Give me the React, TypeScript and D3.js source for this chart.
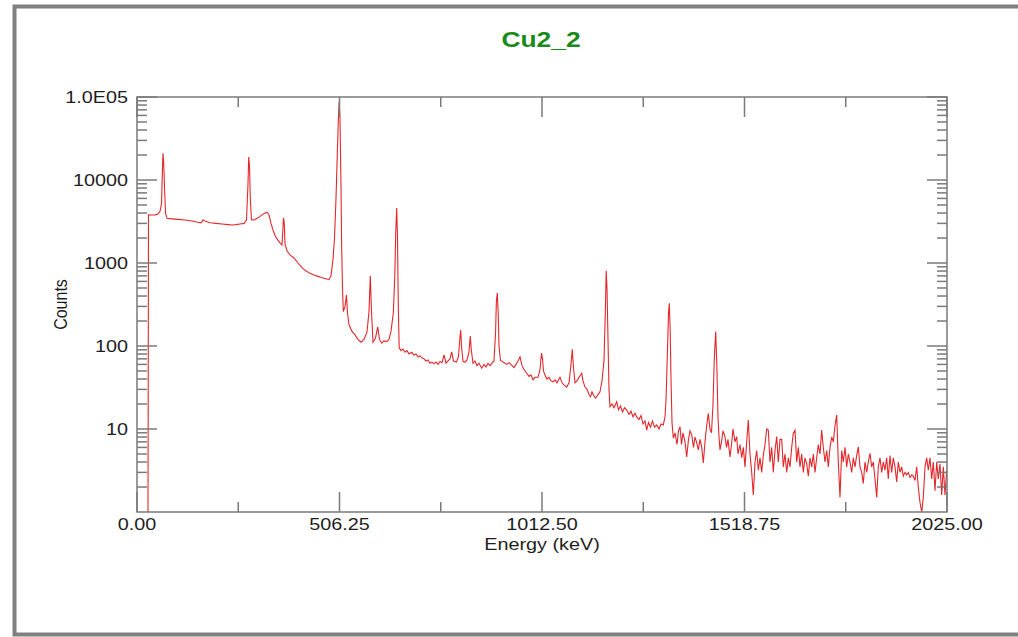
import React from "react";
import * as d3 from "d3";

const title = "Cu2_2";
const xTicks = [0, 506.25, 1012.5, 1518.75, 2025];
const xMinorTicks = [253.125, 759.375, 1265.625, 1771.875];
const yTicks = [1e5, 1e4, 1e3, 100, 10];
const yTickLabels = ["1.0E05", "10000", "1000", "100", "10"];

const energy = [
  27.5, 28.75, 35, 45, 52.5, 57.5, 61.25, 63.75, 65, 66.75, 68.75, 71.25, 75, 87.5, 102.5, 120, 137.5, 152.5, 160, 165, 170,
  182.5, 197.5, 212.5, 227.5, 237.5, 247.5, 257.5, 267.5, 273.75, 277.5, 279.25, 281.25, 283.25, 286.25, 292.5, 302.5, 312.5,
  320, 325, 330, 335, 340, 345, 350, 357.5, 362.5, 366.25, 368.25, 370, 375, 382.5, 392.5, 402.5, 412.5, 422.5, 432.5, 442.5,
  452.5, 462.5, 472.5, 480, 485, 490, 493.75, 497.5, 501.25, 503.75, 505.5, 507.5, 510, 511.75, 513.75, 515.75, 520, 523.75,
  526.25, 530, 537.5, 545, 552.5, 560, 567.5, 575, 580, 583.25, 585.75, 590, 596.25, 601.75, 606.25, 611.75, 617.5, 624.25,
  630, 635, 640.75, 644.5, 647, 649.25, 651.25, 653.25, 655.5, 660, 665, 670, 675, 680, 686.75, 692.5, 697.5, 702.5, 707.5,
  712.5, 717.5, 722.5, 727.5, 732.5, 737.5, 742.5, 747.5, 752.5, 757.5, 762.5, 767.5, 772.5, 777.5, 782.5, 786.75, 791.25,
  798.75, 803.75, 807.5, 809.25, 811.25, 815, 820, 825, 830, 833.25, 835.75, 840, 845, 850, 855, 861.75, 867.5, 872.5, 877.5,
  882.5, 887.5, 892.5, 896.5, 898.5, 900.75, 903, 905, 908.75, 915, 920, 925, 930, 936.75, 942.5, 947.5, 952.5, 957.5, 962.5,
  967.5, 974.25, 980, 985, 990, 995, 1002.5, 1007.5, 1011.25, 1013.75, 1016.25, 1020, 1025, 1030, 1035, 1040, 1045, 1050,
  1055, 1057.5, 1062.5, 1067.5, 1074.25, 1080, 1084.25, 1088.25, 1091.25, 1095, 1100, 1105, 1111.75, 1115, 1120, 1125, 1130,
  1133.75, 1137.5, 1142.5, 1146.25, 1152.5, 1157.5, 1162.5, 1167.5, 1170.75, 1173, 1175, 1177.5, 1180, 1182.5, 1187.5, 1192.5,
  1199.25, 1203.75, 1208.75, 1213.75, 1218.75, 1224.25, 1230, 1235, 1240, 1245, 1249.25, 1255, 1260, 1265, 1270, 1274.25,
  1278.75, 1283.75, 1288.75, 1293.75, 1299.25, 1305, 1310, 1315.75, 1320, 1322.5, 1326.25, 1328.75, 1330.75, 1333, 1335,
  1337.5, 1340.75, 1345, 1350, 1353.75, 1357.5, 1361.25, 1365, 1370, 1374.25, 1378.75, 1382.5, 1386.75, 1391.25, 1395,
  1398.75, 1403.25, 1407.5, 1411.75, 1415.75, 1420, 1424.25, 1428.25, 1432.5, 1436.25, 1440, 1443.25, 1446.75, 1449.5,
  1452.5, 1455, 1457.5, 1461.25, 1465, 1470, 1473.75, 1477.5, 1482.5, 1486.25, 1490, 1495, 1499.25, 1502.5, 1507.5,
  1511.75, 1515.75, 1520, 1524.25, 1528.25, 1532.5, 1536.75, 1540.75, 1545, 1549.25, 1553.25, 1557.5, 1561.75, 1565.75,
  1570, 1574.25, 1578.25, 1582.5, 1586.75, 1590.75, 1595, 1599.25, 1603.25, 1607.5, 1611.75, 1615.75, 1620, 1624.25,
  1628.25, 1632.5, 1636.75, 1640.75, 1645, 1649.25, 1653.25, 1657.5, 1661.75, 1665.75, 1670, 1674.25, 1678.25, 1682.5,
  1686.75, 1690.75, 1695, 1699.25, 1703.25, 1707.5, 1711.75, 1715.75, 1720, 1724.25, 1728.25, 1732.5, 1736.75, 1740.75,
  1745, 1749.25, 1753.25, 1757.5, 1761.75, 1765.75, 1770, 1774.25, 1778.25, 1782.5, 1786.75, 1790.75, 1795, 1799.25,
  1803.25, 1807.5, 1811.75, 1815.75, 1820, 1824.25, 1828.25, 1832.5, 1836.75, 1840.75, 1845, 1849.25, 1853.25, 1857.5,
  1861.75, 1865.75, 1870, 1874.25, 1878.25, 1882.5, 1886.75, 1890.75, 1895, 1899.25, 1903.25, 1907.5, 1911.75, 1915.75,
  1920, 1924.25, 1928.25, 1932.5, 1936.75, 1940.75, 1945, 1949.25, 1953.25, 1957.5, 1961.75, 1965.75, 1970, 1974.25,
  1978.25, 1982.5, 1986.75, 1990.75, 1995, 1999.25, 2003.25, 2007.5, 2011.75, 2015.75, 2020, 2024.25,
];

const counts = [
  1, 3800, 3780, 3800, 3900, 4200, 5200, 14000, 21000, 16000, 8000, 4000, 3450, 3400, 3350, 3300, 3200, 3100, 3050, 3300, 3200,
  3050, 3000, 2950, 2900, 2870, 2900, 2950, 3000, 3300, 9000, 18900, 15000, 6000, 3300, 3300, 3500, 3800,
  4000, 4100, 3800, 3000, 2500, 2150, 1950, 1750, 1650, 3480, 3000, 1700, 1400, 1250, 1150, 1000, 880, 800, 750, 717,
  690, 665, 645, 630, 700, 1100, 2000, 6000, 25000, 60000, 88000, 55000, 8000, 1500, 500, 260, 300, 410,
  250, 180, 150, 136, 120, 111, 120, 148, 260, 700, 300, 111, 125, 170, 120, 108, 115, 113,
  120, 150, 250, 700, 2500, 4600, 2000, 300, 95, 88, 92, 84, 88, 80, 84, 78, 80, 74, 76,
  72, 70, 66, 68, 62, 64, 61, 64, 60, 65, 63, 78, 62, 66, 70, 85, 66,
  64, 75, 130, 156, 100, 65, 64, 68, 85, 132, 90, 62, 66, 58, 62, 54, 60, 56, 62,
  58, 62, 66, 150, 350, 435, 250, 100, 67, 64, 62, 60, 63, 59, 55, 60, 66, 74, 58,
  52, 47, 43, 45, 39, 42, 42, 52, 82, 70, 50, 44.6, 40, 42, 38, 37, 39, 36,
  40, 42, 36, 34, 32, 36, 55, 91, 55, 36, 38, 42, 47, 38, 32, 30, 26,
  24.5, 28, 25, 23.6, 26, 28, 38, 67, 250, 808, 500, 120, 30, 18.6, 20, 18,
  21.3, 17, 19, 16, 18, 16.9, 15, 16.5, 14, 15.5, 14, 13, 14.5, 11.5, 12.5, 9.7,
  12, 10.5, 12.5, 10.5, 11.2, 10, 11.5, 11.2, 14, 22.4, 90, 250, 327, 150, 40,
  12, 7.8, 9, 6.5, 9.5, 10.7, 6.5, 9, 7, 4.6, 7.5, 9.5, 8.5, 6, 8,
  7, 5.6, 7.5, 6, 3.9, 7, 11, 15.4, 10, 9, 20, 70, 149, 60,
  14, 8, 5.6, 7, 9.5, 8.1, 6, 7.5, 4.6, 6.5, 10, 7, 8.1, 5, 6.5,
  4.5, 6, 3.5, 7, 12.8, 5, 3, 1.6, 4, 5.5, 3.2, 4.5, 3, 4.8,
  6.5, 10, 9.7, 4, 6, 3, 5.5, 8.1, 4, 7.5, 7.5, 3.5, 5, 3,
  4.5, 3.5, 6, 8.9, 9.7, 4, 6, 3.5, 5, 3, 4.5, 3.8, 2.7, 4.5,
  3.5, 5, 3, 4.5, 6.5, 5, 9.7, 6, 4, 5.5, 3.5, 6, 8, 7,
  11, 14.7, 4, 1.5, 5.5, 4, 6, 3.5, 5, 4, 3, 4.5, 3.5, 4.8,
  6.1, 3.5, 3, 2.2, 4, 3, 4, 5.1, 3.5, 4, 2.5, 1.5, 3.5, 4.5,
  3, 4, 3.2, 4.5, 2.5, 4.8, 3, 4.5, 3.5, 2.3, 4, 3, 3.5, 2.7,
  3, 2.8, 3, 2.6, 2.8, 2.7, 2.4, 3.5, 2, 1.3, 1.0, 1.5, 3.5, 4.5,
  3.2, 4.5, 2.5, 4, 1.8, 4, 2.5, 3.8, 1.6, 3.5, 1.6, 3.2,
];

const W = 1018;
const H = 637;
const L = 137, R = 947, T = 97, B = 512;
const AXIS = "#7a7a7a";
const FONT = "'Liberation Sans', Arial, sans-serif";
const SX = 1.2;

function SText(props: { x: number; y: number; anchor: string; size: number; fill?: string; bold?: boolean; children: React.ReactNode }) {
  return (
    <g transform={`translate(${props.x},${props.y}) scale(${SX},1)`}>
      <text
        x={0}
        y={0}
        textAnchor={props.anchor as any}
        fontFamily={FONT}
        fontSize={props.size}
        fontWeight={props.bold ? "bold" : "normal"}
        fill={props.fill || "#1e1e1e"}
      >
        {props.children}
      </text>
    </g>
  );
}

export default function App() {
  const x = d3.scaleLinear().domain([0, 2025]).range([L, R]);
  const y = d3.scaleLog().domain([1, 1e5]).range([B, T]);
  const pts: [number, number][] = energy.map((e, i) => [e, counts[i]]);
  const line = d3
    .line<[number, number]>()
    .x((d) => x(d[0]))
    .y((d) => y(Math.max(d[1], 1)));

  const minorY: number[] = [];
  for (let dec = 1; dec < 1e5; dec *= 10) {
    for (let k = 2; k <= 9; k++) minorY.push(dec * k);
  }

  return (
    <svg width={W} height={H} style={{ position: "absolute", left: 0, top: 0, background: "#fff" }}>
      <rect x={0} y={0} width={W} height={H} fill="#fff" />
      <rect x={14.5} y={6.5} width={1100} height={628} fill="none" stroke="#808080" strokeWidth={4} />
      <SText x={541} y={47} anchor="middle" size={22} fill="#1a8a1a" bold>
        {title}
      </SText>
      <defs>
        <clipPath id="plotclip">
          <rect x={L} y={T} width={R - L} height={B - T} />
        </clipPath>
      </defs>
      <path d={line(pts) || ""} fill="none" stroke="#e3282c" strokeWidth={1.1} clipPath="url(#plotclip)" />
      <rect x={L} y={T} width={R - L} height={B - T} fill="none" stroke={AXIS} strokeWidth={1.5} />
      {xTicks.map((t) => (
        <g key={"xt" + t}>
          <line x1={x(t)} x2={x(t)} y1={B} y2={B - 20} stroke={AXIS} strokeWidth={1.5} />
          <line x1={x(t)} x2={x(t)} y1={T} y2={T + 20} stroke={AXIS} strokeWidth={1.5} />
          <SText x={x(t)} y={B + 18} anchor="middle" size={16.5}>
            {t.toFixed(2)}
          </SText>
        </g>
      ))}
      {xMinorTicks.map((t) => (
        <g key={"xm" + t}>
          <line x1={x(t)} x2={x(t)} y1={B} y2={B - 10} stroke={AXIS} strokeWidth={1.5} />
          <line x1={x(t)} x2={x(t)} y1={T} y2={T + 10} stroke={AXIS} strokeWidth={1.5} />
        </g>
      ))}
      {yTicks.map((t, i) => (
        <g key={"yt" + t}>
          <line x1={L} x2={L + 20} y1={y(t)} y2={y(t)} stroke={AXIS} strokeWidth={1.5} />
          <line x1={R} x2={R - 20} y1={y(t)} y2={y(t)} stroke={AXIS} strokeWidth={1.5} />
          <SText x={L - 9} y={y(t) + 6} anchor="end" size={16.5}>
            {yTickLabels[i]}
          </SText>
        </g>
      ))}
      {minorY.map((t) => (
        <g key={"ym" + t}>
          <line x1={L} x2={L + 10} y1={y(t)} y2={y(t)} stroke={AXIS} strokeWidth={1.5} />
          <line x1={R} x2={R - 10} y1={y(t)} y2={y(t)} stroke={AXIS} strokeWidth={1.5} />
        </g>
      ))}
      <SText x={542} y={550} anchor="middle" size={16.5}>
        Energy (keV)
      </SText>
      <g transform={`translate(67,${(T + B) / 2}) scale(${SX},1) rotate(-90)`}>
        <text x={0} y={0} textAnchor="middle" fontFamily={FONT} fontSize={16} fill="#1e1e1e">
          Counts
        </text>
      </g>
    </svg>
  );
}
